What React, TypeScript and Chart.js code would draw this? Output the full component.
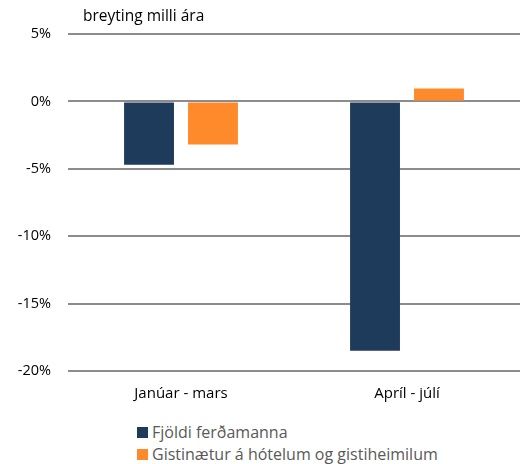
import React, { useEffect, useRef } from "react";
import { Chart, registerables } from "chart.js";

Chart.register(...registerables);

const categories = ["Janúar - mars", "Apríl - júlí"];
const seriesNames = ["Fjöldi ferðamanna", "Gistinætur á hótelum og gistiheimilum"];
const visitors = [-4.7, -18.5];
const nights = [-3.2, 0.95];
const colors = ["#1F3B5B", "#FF8A2B"];
const axisTitle = "breyting milli ára";

const FONT = "'Open Sans', Lato, sans-serif";

export default function App() {
  const ref = useRef<HTMLCanvasElement>(null);

  useEffect(() => {
    document.body.style.margin = "0";
    const titlePlugin = {
      id: "topTitle",
      afterDraw(chart: any) {
        const { ctx, chartArea } = chart;
        ctx.save();
        ctx.font = `15.5px ${FONT}`;
        ctx.fillStyle = "#000";
        ctx.textBaseline = "middle";
        ctx.textAlign = "left";
        ctx.fillText(axisTitle, chartArea.left + 15, chartArea.top - 17);
        ctx.restore();
      },
    };
    const chart = new Chart(ref.current!, {
      type: "bar",
      data: {
        labels: categories,
        datasets: [
          { label: seriesNames[0], data: visitors, backgroundColor: colors[0] },
          { label: seriesNames[1], data: nights, backgroundColor: colors[1] },
        ],
      },
      options: {
        animation: false,
        responsive: false,
        maintainAspectRatio: false,
        layout: { padding: { top: 34, right: 6, left: 0, bottom: 0 } },
        datasets: { bar: { categoryPercentage: 0.566, barPercentage: 0.78 } },
        plugins: { legend: { display: false }, tooltip: { enabled: false } },
        scales: {
          x: {
            grid: { display: false, drawTicks: false },
            border: { display: false },
            ticks: { color: "#000", font: { family: FONT, size: 15 }, padding: 14 },
          },
          y: {
            min: -20,
            max: 5,
            afterFit(scale: any) {
              scale.width = 68;
            },
            ticks: {
              stepSize: 5,
              color: "#000",
              font: { family: FONT, size: 14.5 },
              padding: 17,
              callback: (v: any) => `${v}%`,
            },
            grid: { color: "#8C8C8C", lineWidth: 2, drawTicks: false },
            border: { display: false },
          },
        },
      },
      plugins: [titlePlugin],
    });
    return () => chart.destroy();
  }, []);

  return (
    <div style={{ position: "relative", width: 526, height: 464, background: "#fff" }}>
      <canvas ref={ref} width={526} height={417} style={{ position: "absolute", left: 0, top: 0 }} />
      <div
        style={{
          position: "absolute",
          left: 137,
          top: 421,
          fontFamily: FONT,
          fontSize: 16,
          color: "#595959",
          lineHeight: "22px",
        }}
      >
        {seriesNames.map((n, i) => (
          <div key={n} style={{ display: "flex", alignItems: "center" }}>
            <span style={{ width: 11, height: 11, background: colors[i], display: "inline-block", marginRight: 4 }} />
            <span>{n}</span>
          </div>
        ))}
      </div>
    </div>
  );
}
